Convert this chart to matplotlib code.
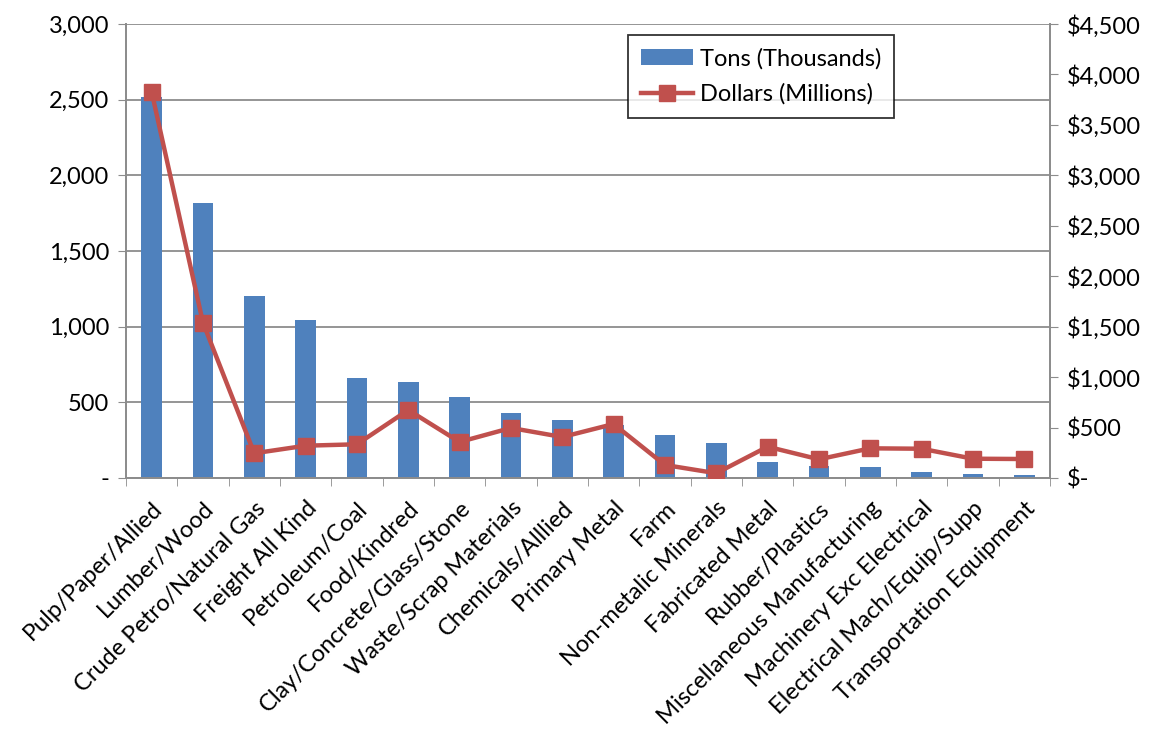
import matplotlib.pyplot as plt
import numpy as np
from matplotlib.ticker import FuncFormatter

plt.rcParams['font.family'] = ['Lato', 'DejaVu Sans']

categories = ['Pulp/Paper/Allied', 'Lumber/Wood', 'Crude Petro/Natural Gas', 'Freight All Kind',
              'Petroleum/Coal', 'Food/Kindred', 'Clay/Concrete/Glass/Stone', 'Waste/Scrap Materials',
              'Chemicals/Alllied', 'Primary Metal', 'Farm', 'Non-metalic Minerals', 'Fabricated Metal',
              'Rubber/Plastics', 'Miscellaneous Manufacturing', 'Machinery Exc Electrical',
              'Electrical Mach/Equip/Supp', 'Transportation Equipment']
tons = [2515, 1815, 1203, 1042, 663, 634, 535, 430, 383, 350, 284, 229, 108, 79, 70, 37, 24, 22]
dollars = [3829, 1540, 245, 320, 334, 674, 357, 496, 406, 535, 129, 47, 310, 185, 294, 290, 191, 188]

fig = plt.figure(figsize=(11.64, 7.39), dpi=100)
ax = fig.add_axes([0.1082, 0.3532, 0.7938, 0.6143])
x = np.arange(len(categories))

ax.bar(x, tons, width=0.4, color='#4F81BD', label='Tons (Thousands)', zorder=2)
ax.set_ylim(0, 3000)
ax.set_xlim(-0.5, len(categories) - 0.5)
ax.set_yticks(np.arange(0, 3001, 500))
ax.yaxis.set_major_formatter(FuncFormatter(lambda v, p: '-' if v == 0 else f'{v:,.0f}'))
ax.grid(axis='y', color='#8c8c8c', linewidth=1.3, zorder=0)
ax.set_axisbelow(True)

ax2 = ax.twinx()
ax2.plot(x, dollars, color='#C0504D', linewidth=3.2, marker='s', markersize=11,
         label='Dollars (Millions)', zorder=3)
ax2.set_ylim(0, 4500)
ax2.set_yticks(np.arange(0, 4501, 500))
ax2.yaxis.set_major_formatter(FuncFormatter(lambda v, p: '$-' if v == 0 else f'${v:,.0f}'))

ax.set_xticks(x)
ax.set_xticklabels(categories, rotation=45, ha='right', rotation_mode='anchor')
ax.set_xticks(np.arange(-0.5, len(categories), 1), minor=True)
ax.tick_params(axis='x', which='major', length=0, pad=14, labelsize=17)
ax.tick_params(axis='x', which='minor', length=6, color='#8c8c8c')
ax.tick_params(axis='y', length=6, color='#8c8c8c', labelsize=17, pad=6)
ax2.tick_params(axis='y', length=6, color='#8c8c8c', labelsize=17, pad=6)

for a in (ax, ax2):
    a.spines['top'].set_visible(False)
    for s in ('left', 'right', 'bottom'):
        a.spines[s].set_color('#8c8c8c')
        a.spines[s].set_linewidth(1.3)

h1, l1 = ax.get_legend_handles_labels()
h2, l2 = ax2.get_legend_handles_labels()
leg = ax2.legend(h1 + h2, l1 + l2, loc='upper left', bbox_to_anchor=(0.5395, 0.953),
                 bbox_transform=fig.transFigure, fontsize=17, frameon=True, fancybox=False,
                 edgecolor='black', borderpad=0.55, handlelength=2.2, labelspacing=0.6,
                 handletextpad=0.3, borderaxespad=0)
leg.get_frame().set_linewidth(1.3)

fig.savefig('out.png', dpi=100)
